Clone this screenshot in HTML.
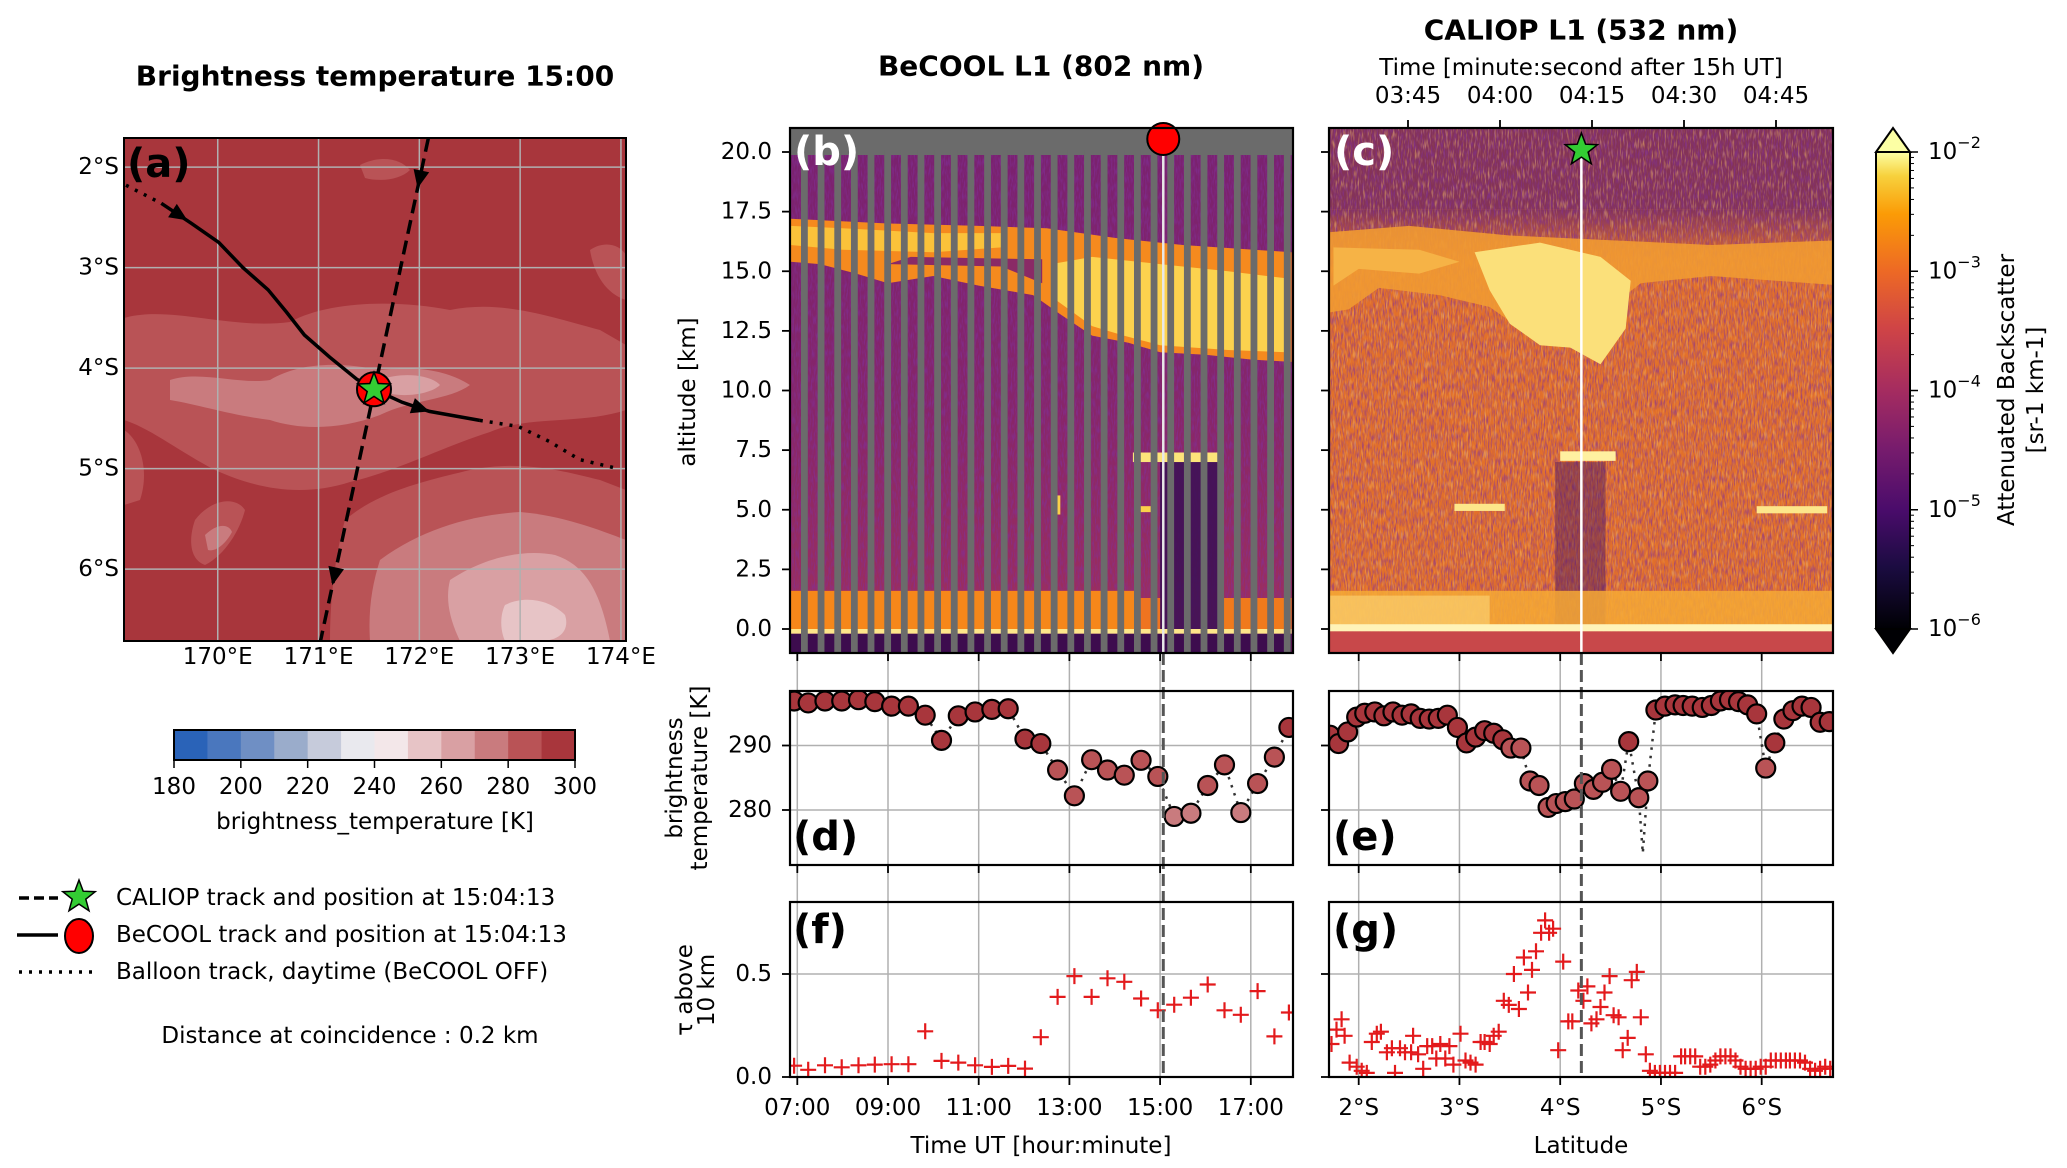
<!DOCTYPE html>
<html><head><meta charset="utf-8">
<style>
html,body{margin:0;padding:0;background:#fff;}
svg{display:block;font-family:"DejaVu Sans","Liberation Sans",sans-serif;}
.t{font-size:23px;fill:#000;}
.b{font-weight:bold;}
</style></head>
<body>
<svg id="fig" width="2067" height="1168" viewBox="0 0 2067 1168" xmlns="http://www.w3.org/2000/svg">
<defs>
<clipPath id="clipA"><rect x="124" y="138" width="502" height="503"/></clipPath>
<clipPath id="clipB"><rect x="790" y="128" width="503" height="525"/></clipPath>
<clipPath id="clipC"><rect x="1329" y="128" width="504" height="525"/></clipPath>
<clipPath id="clipD"><rect x="790" y="691" width="503" height="174"/></clipPath>
<clipPath id="clipE"><rect x="1329" y="691" width="504" height="174"/></clipPath>
<clipPath id="clipF"><rect x="790" y="902" width="503" height="175"/></clipPath>
<clipPath id="clipG"><rect x="1329" y="902" width="504" height="175"/></clipPath>
<linearGradient id="inferno" x1="0" y1="1" x2="0" y2="0">
<stop offset="0" stop-color="#000004"/><stop offset="0.13" stop-color="#1b0c41"/><stop offset="0.25" stop-color="#4a0c6b"/>
<stop offset="0.38" stop-color="#781c6d"/><stop offset="0.5" stop-color="#a52c60"/><stop offset="0.63" stop-color="#cf4446"/>
<stop offset="0.75" stop-color="#ed6925"/><stop offset="0.87" stop-color="#fb9b06"/><stop offset="0.95" stop-color="#f7d13d"/><stop offset="1" stop-color="#fcffa4"/>
</linearGradient>
<linearGradient id="cTopFade" x1="0" y1="0" x2="0" y2="1">
<stop offset="0" stop-color="#6d2461" stop-opacity="0.8"/><stop offset="1" stop-color="#6d2461" stop-opacity="0"/>
</linearGradient>
<linearGradient id="bBg" x1="0" y1="0" x2="0" y2="1">
<stop offset="0" stop-color="#7a226f"/><stop offset="0.5" stop-color="#86266a"/><stop offset="1" stop-color="#a0305c"/>
</linearGradient>
<filter id="noiseP" x="0" y="0" width="1" height="1">
<feTurbulence type="fractalNoise" baseFrequency="0.7 0.12" numOctaves="2" seed="4"/>
<feColorMatrix values="0 0 0 0 0.22  0 0 0 0 0.03  0 0 0 0 0.32  0 0 0 -3 1.75"/>
</filter>
<filter id="noiseO" x="0" y="0" width="1" height="1">
<feTurbulence type="fractalNoise" baseFrequency="0.6 0.1" numOctaves="2" seed="11"/>
<feColorMatrix values="0 0 0 0 0.95  0 0 0 0 0.55  0 0 0 0 0.15  0 0 0 3 -1.5"/>
</filter>
</defs>

<text class="t b" x="375" y="76" text-anchor="middle" dominant-baseline="central" style="font-size:28px">Brightness temperature 15:00</text>
<text class="t b" x="1041" y="66" text-anchor="middle" dominant-baseline="central" style="font-size:28px">BeCOOL L1 (802 nm)</text>
<text class="t b" x="1581" y="30" text-anchor="middle" dominant-baseline="central" style="font-size:28px">CALIOP L1 (532 nm)</text>
<text class="t" x="1581" y="68" text-anchor="middle" dominant-baseline="central">Time [minute:second after 15h UT]</text>

<g id="gA" clip-path="url(#clipA)"></g>
<g id="gB" clip-path="url(#clipB)"></g>
<g id="gC" clip-path="url(#clipC)"></g>
<g id="gGrid"></g>
<g id="gD" clip-path="url(#clipD)"></g>
<g id="gE" clip-path="url(#clipE)"></g>
<g id="gF" clip-path="url(#clipF)"></g>
<g id="gG" clip-path="url(#clipG)"></g>
<g id="gOver"></g>
<g id="gAxes"></g>

<text class="t" transform="translate(688,392) rotate(-90)" text-anchor="middle" dominant-baseline="central">altitude [km]</text>
<text class="t" transform="translate(675,778) rotate(-90)" text-anchor="middle" dominant-baseline="central">brightness</text>
<text class="t" transform="translate(700,778) rotate(-90)" text-anchor="middle" dominant-baseline="central">temperature [K]</text>
<text class="t" transform="translate(685,990) rotate(-90)" text-anchor="middle" dominant-baseline="central">τ above</text>
<text class="t" transform="translate(707,990) rotate(-90)" text-anchor="middle" dominant-baseline="central">10 km</text>
<text class="t" x="1041" y="1146" text-anchor="middle" dominant-baseline="central">Time UT [hour:minute]</text>
<text class="t" x="1581" y="1146" text-anchor="middle" dominant-baseline="central">Latitude</text>
<text class="t" transform="translate(2007,390) rotate(-90)" text-anchor="middle" dominant-baseline="central">Attenuated Backscatter</text>
<text class="t" transform="translate(2036,390) rotate(-90)" text-anchor="middle" dominant-baseline="central">[sr-1 km-1]</text>

<g id="gLegend">
<line x1="19" y1="898" x2="58" y2="898" stroke="#000" stroke-width="3.5" stroke-dasharray="10 5"/>
<line x1="17" y1="935" x2="58" y2="935" stroke="#000" stroke-width="3.5"/>
<line x1="19" y1="972" x2="96" y2="972" stroke="#000" stroke-width="3.5" stroke-dasharray="3 7"/>
<text class="t" x="116" y="898" dominant-baseline="central">CALIOP track and position at 15:04:13</text>
<text class="t" x="116" y="935" dominant-baseline="central">BeCOOL track and position at 15:04:13</text>
<text class="t" x="116" y="972" dominant-baseline="central">Balloon track, daytime (BeCOOL OFF)</text>
<text class="t" x="350" y="1036" text-anchor="middle" dominant-baseline="central">Distance at coincidence : 0.2 km</text>
<text class="t" x="375" y="822" text-anchor="middle" dominant-baseline="central">brightness_temperature [K]</text>
</g>

<g id="gLetters">
<text class="t b" x="127" y="164" dominant-baseline="central" style="font-size:40px">(a)</text>
<text class="t b" x="794" y="152" dominant-baseline="central" style="font-size:40px;fill:#fff">(b)</text>
<text class="t b" x="1334" y="152" dominant-baseline="central" style="font-size:40px;fill:#fff">(c)</text>
<text class="t b" x="793" y="837" dominant-baseline="central" style="font-size:40px">(d)</text>
<text class="t b" x="1333" y="837" dominant-baseline="central" style="font-size:40px">(e)</text>
<text class="t b" x="793" y="930" dominant-baseline="central" style="font-size:40px">(f)</text>
<text class="t b" x="1333" y="930" dominant-baseline="central" style="font-size:40px">(g)</text>
</g>
</svg>

<script>
const becoolHours=[6.93,7.24,7.61,7.98,8.35,8.71,9.08,9.45,9.82,10.18,10.55,10.92,11.29,11.65,12.02,12.37,12.74,13.11,13.49,13.84,14.21,14.58,14.95,15.31,15.68,16.05,16.42,16.78,17.15,17.52,17.84];
const becoolBT=[296.9,296.6,296.9,296.9,297.1,296.8,296.1,296.1,294.7,290.8,294.6,295.2,295.6,295.7,291.0,290.3,286.2,282.2,287.8,286.2,285.4,287.7,285.2,279.0,279.5,283.8,287.0,279.6,284.1,288.2,292.8];
const becoolTau=[0.055,0.035,0.057,0.047,0.057,0.06,0.062,0.062,0.222,0.078,0.07,0.057,0.049,0.054,0.041,0.193,0.389,0.49,0.389,0.479,0.462,0.381,0.324,0.351,0.385,0.449,0.324,0.302,0.417,0.197,0.313];
const caliopLat=[1.715,1.80,1.89,1.98,2.06,2.16,2.25,2.34,2.43,2.52,2.61,2.70,2.79,2.88,2.98,3.07,3.16,3.25,3.34,3.43,3.51,3.61,3.70,3.79,3.88,3.96,4.05,4.14,4.24,4.33,4.42,4.51,4.60,4.68,4.78,4.87,4.95,5.04,5.14,5.22,5.31,5.41,5.50,5.59,5.68,5.77,5.86,5.95,6.04,6.13,6.22,6.31,6.40,6.49,6.58,6.67];
const caliopBT=[291.6,290.3,292.1,294.4,295.0,295.2,294.6,295.2,294.7,294.9,294.2,294.1,294.2,294.7,292.8,290.4,291.3,292.3,291.9,290.9,289.6,289.6,284.5,283.8,280.4,281.0,281.3,281.7,284.1,283.2,284.3,286.3,282.9,290.6,281.9,284.5,295.5,296.1,296.3,296.2,296.1,295.9,296.2,296.9,297.1,296.8,296.3,294.9,286.5,290.4,294.1,295.4,296.1,295.9,293.6,293.7];
const caliopDipLat=[4.82];
const caliopDipBT=[273.3];
const caliopTauLat=[1.73,1.78,1.83,1.86,1.91,1.98,2.03,2.08,2.13,2.18,2.22,2.28,2.33,2.36,2.41,2.46,2.52,2.54,2.59,2.64,2.68,2.73,2.77,2.81,2.86,2.90,2.94,3.01,3.06,3.11,3.16,3.21,3.25,3.30,3.34,3.39,3.44,3.49,3.54,3.59,3.64,3.68,3.72,3.76,3.81,3.85,3.89,3.93,3.98,4.03,4.08,4.12,4.18,4.23,4.27,4.31,4.36,4.40,4.44,4.49,4.53,4.58,4.62,4.67,4.71,4.76,4.80,4.85,4.89,4.94,4.99,5.04,5.09,5.14,5.20,5.24,5.29,5.34,5.39,5.44,5.49,5.54,5.59,5.64,5.69,5.74,5.79,5.84,5.89,5.94,5.99,6.04,6.09,6.14,6.19,6.24,6.28,6.33,6.38,6.43,6.48,6.53,6.58,6.63,6.68];
const caliopTau=[0.16,0.23,0.28,0.20,0.07,0.05,0.03,0.02,0.17,0.21,0.22,0.12,0.14,0.02,0.14,0.12,0.12,0.20,0.11,0.04,0.15,0.15,0.09,0.16,0.09,0.15,0.06,0.21,0.08,0.07,0.06,0.17,0.17,0.16,0.20,0.22,0.37,0.35,0.50,0.33,0.58,0.41,0.52,0.61,0.70,0.76,0.70,0.72,0.13,0.56,0.27,0.27,0.42,0.37,0.44,0.26,0.28,0.34,0.41,0.49,0.30,0.29,0.13,0.19,0.47,0.51,0.29,0.11,0.03,0.02,0.02,0.02,0.02,0.02,0.10,0.10,0.10,0.10,0.05,0.05,0.06,0.08,0.10,0.10,0.10,0.08,0.05,0.04,0.04,0.04,0.05,0.05,0.08,0.08,0.08,0.08,0.08,0.08,0.08,0.07,0.04,0.03,0.04,0.05,0.04];
const timeTicks=[7,9,11,13,15,17];
const timeTickLabels=["07:00","09:00","11:00","13:00","15:00","17:00"];
const latTicks=[2,3,4,5,6];
const latTickLabels=["2°S","3°S","4°S","5°S","6°S"];
const altTicks=[0,2.5,5,7.5,10,12.5,15,17.5,20];
const altTickLabels=["0.0","2.5","5.0","7.5","10.0","12.5","15.0","17.5","20.0"];
const btTicks=[280,290];
const tauTicks=[0,0.5];
const tauTickLabels=["0.0","0.5"];
const caliopTopMinutes=[3.75,4,4.25,4.5,4.75];
const caliopTopLabels=["03:45","04:00","04:15","04:30","04:45"];
const mapLonTicks=[170,171,172,173,174];
const mapLatTicks=[2,3,4,5,6];
const btBounds=[180,190,200,210,220,230,240,250,260,270,280,290,300];
const btColors=["#2a63b8","#4a77be","#6f8fc4","#9aaccb","#c6cbdb","#e9e9ee","#f3e7e9","#e7c4c6","#d9a0a3","#c97b7e","#b95356","#a8363c"];
const becoolTrackLon=[169.09,169.44,169.74,170.01,170.25,170.50,170.68,170.86,171.11,171.38,171.55,171.83,172.10,172.60,172.98,173.29,173.59,173.97];
const becoolTrackLat=[2.18,2.36,2.56,2.75,3.00,3.22,3.44,3.67,3.89,4.11,4.21,4.34,4.43,4.52,4.58,4.73,4.91,5.00];
const caliopTrackLon=[172.09,171.02];
const caliopTrackLat=[1.71,6.71];
const coincidenceLon=[171.55];
const coincidenceLat=[4.21];
const coincidenceHour=[15.07];
const coincidenceLatC=[4.21];

const xb=h=>797.3+(h-7)*45.35;
const yAlt=k=>629-k*23.85;
const xl=l=>1358.7+(l-2)*100.75;
const yT=T=>745.5-(T-290)*6.45;
const yTau=v=>1077-v*206;
const mapX=lon=>124+(lon-169.07)*100.8;
const mapY=lat=>138+(lat-1.71)*100.5;
const xTop=m=>1408+(m-3.75)*368;
const cbY=ex=>629-(ex+6)*119.25;
const btCbX=v=>174+(v-180)*(401/120);
function btColor(T){for(let i=0;i<btColors.length;i++){if(T<btBounds[i+1])return btColors[i];}return btColors[btColors.length-1];}

const NS='http://www.w3.org/2000/svg';
function el(tag,attrs,parent){const n=document.createElementNS(NS,tag);for(const k in attrs)n.setAttribute(k,attrs[k]);parent.appendChild(n);return n;}
const $=id=>document.getElementById(id);
const gA=$('gA'),gB=$('gB'),gC=$('gC'),gD=$('gD'),gE=$('gE'),gF=$('gF'),gG=$('gG'),gGrid=$('gGrid'),gOver=$('gOver'),gAxes=$('gAxes'),svg=$('fig');
function ptsStr(arr,fx,fy){return arr.map(p=>fx(p[0]).toFixed(1)+','+fy(p[1]).toFixed(1)).join(' ');}
function starPts(cx,cy,R){let s=[];for(let i=0;i<10;i++){const r=i%2?R*0.42:R;const a=-Math.PI/2+i*Math.PI/5;s.push((cx+r*Math.cos(a)).toFixed(1)+','+(cy+r*Math.sin(a)).toFixed(1));}return s.join(' ');}

let e;
// ---------- panel A ----------
e=el('rect',{x:124,y:138,width:502,height:503,fill:'#a8363c'},gA);


const patches=[
 ['#b95356','M124,318 C170,305 230,330 290,322 C330,300 400,300 450,310 C500,300 545,315 600,330 L626,345 L626,410 C580,425 530,415 490,432 C440,448 400,470 350,482 C300,498 255,488 215,470 C180,452 150,428 124,420 Z'],
 ['#c97b7e','M170,380 C200,370 240,385 270,380 C300,362 340,362 380,370 C420,365 450,372 470,385 C450,400 410,400 380,415 C340,430 300,430 270,420 C230,415 200,405 170,400 Z'],
 ['#d9a0a3','M380,380 C400,372 430,374 440,385 C430,395 400,398 385,392 Z'],
 ['#b95356','M345,520 C380,490 430,480 470,470 C520,460 560,470 600,480 L626,490 L626,641 L330,641 C330,600 335,555 345,520 Z'],
 ['#c97b7e','M380,560 C420,530 470,515 520,512 C560,515 600,530 626,540 L626,641 L370,641 C368,610 372,585 380,560 Z'],
 ['#d9a0a3','M450,580 C480,560 520,548 555,555 C585,565 600,590 610,641 L460,641 C450,620 445,600 450,580 Z'],
 ['#e7c4c6','M505,605 C525,595 550,600 565,615 C570,630 560,641 540,641 L505,641 C500,630 500,615 505,605 Z'],
 ['#b95356','M195,520 C210,500 235,495 245,510 C240,530 225,555 205,565 C190,560 188,540 195,520 Z'],
 ['#c97b7e','M205,535 C215,525 228,522 232,532 C225,545 215,552 208,550 Z'],
 ['#b95356','M124,430 C140,440 150,470 140,500 L124,505 Z'],
 ['#b95356','M360,165 C380,155 400,158 410,170 C400,180 380,182 365,178 Z'],
 ['#b95356','M590,250 C605,240 620,245 626,255 L626,300 C610,295 595,280 590,250 Z']
];
patches.forEach((p,i)=>{
 e=el('path',{d:p[1],fill:p[0]},gA);
 
 
});
mapLonTicks.forEach(lon=>{
 e=el('line',{x1:mapX(lon),y1:138,x2:mapX(lon),y2:641,stroke:'#b0b0b0','stroke-width':1.5},gA);
 
 
});
mapLatTicks.forEach(lat=>{
 e=el('line',{x1:124,y1:mapY(lat),x2:626,y2:mapY(lat),stroke:'#b0b0b0','stroke-width':1.5},gA);
 
 
});
const trk=becoolTrackLon.map((lon,i)=>[lon,becoolTrackLat[i]]);
e=el('polyline',{points:ptsStr(trk.slice(0,2),mapX,mapY),fill:'none',stroke:'#000','stroke-width':3.5,'stroke-dasharray':'3 7'},gA);


e=el('polyline',{points:ptsStr(trk.slice(1,14),mapX,mapY),fill:'none',stroke:'#000','stroke-width':3.5},gA);


e=el('polyline',{points:ptsStr(trk.slice(13),mapX,mapY),fill:'none',stroke:'#000','stroke-width':3.5,'stroke-dasharray':'3 7'},gA);


const ctrk=caliopTrackLon.map((lon,i)=>[lon,caliopTrackLat[i]]);
e=el('polyline',{points:ptsStr(ctrk,mapX,mapY),fill:'none',stroke:'#000','stroke-width':3.5,'stroke-dasharray':'14 7'},gA);


function arrow(x0,y0,x1,y1,name){
 const a=Math.atan2(y1-y0,x1-x0),L=18,W=8;
 const bx=x1-L*Math.cos(a),by=y1-L*Math.sin(a);
 const p=[[x1,y1],[bx+W*Math.sin(a),by-W*Math.cos(a)],[bx-W*Math.sin(a),by+W*Math.cos(a)]];
 const r=el('polygon',{points:p.map(q=>q[0].toFixed(1)+','+q[1].toFixed(1)).join(' '),fill:'#000'},gA);
 
 
}
arrow(mapX(trk[1][0]),mapY(trk[1][1]),mapX(trk[2][0])-4,mapY(trk[2][1])-3,'becool-direction-arrow-1');
arrow(mapX(trk[11][0]),mapY(trk[11][1]),mapX(trk[12][0]),mapY(trk[12][1]),'becool-direction-arrow-2');
{const f=t=>[mapX(ctrk[0][0]+(ctrk[1][0]-ctrk[0][0])*t),mapY(ctrk[0][1]+(ctrk[1][1]-ctrk[0][1])*t)];
 const a1=f(0.05),a2=f(0.1),b1=f(0.84),b2=f(0.89);
 arrow(a1[0],a1[1],a2[0],a2[1],'caliop-direction-arrow-1');
 arrow(b1[0],b1[1],b2[0],b2[1],'caliop-direction-arrow-2');}
e=el('circle',{cx:mapX(coincidenceLon[0]),cy:mapY(coincidenceLat[0]),r:17,fill:'#ff0000',stroke:'#000','stroke-width':2},gA);


e=el('polygon',{points:starPts(mapX(coincidenceLon[0]),mapY(coincidenceLat[0]),17),fill:'#33cc33',stroke:'#000','stroke-width':1.5},gA);


e=el('rect',{x:124,y:138,width:502,height:503,fill:'none',stroke:'#000','stroke-width':2},gAxes);


mapLonTicks.forEach(lon=>{
 e=el('text',{x:mapX(lon),y:657,'text-anchor':'middle','dominant-baseline':'central',class:'t'},gAxes);
 e.textContent=lon+'°E';
 
 
});
mapLatTicks.forEach(lat=>{
 e=el('text',{x:119,y:mapY(lat),'text-anchor':'end','dominant-baseline':'central',class:'t'},gAxes);
 e.textContent=lat+'°S';
 
 
});
btColors.forEach((c,i)=>{
 e=el('rect',{x:btCbX(btBounds[i]),y:730,width:btCbX(btBounds[i+1])-btCbX(btBounds[i])+0.5,height:30,fill:c},svg);
 
 
});
e=el('rect',{x:174,y:730,width:401,height:30,fill:'none',stroke:'#000','stroke-width':2},svg);


[180,200,220,240,260,280,300].forEach(v=>{
 e=el('line',{x1:btCbX(v),y1:760,x2:btCbX(v),y2:768,stroke:'#000','stroke-width':1.5},svg);
 
 
 e=el('text',{x:btCbX(v),y:787,'text-anchor':'middle','dominant-baseline':'central',class:'t'},svg);
 e.textContent=v;
 
 
});
e=el('polygon',{points:starPts(79,897,17),fill:'#33cc33',stroke:'#000','stroke-width':1.5},$('gLegend'));


e=el('ellipse',{cx:79,cy:936,rx:14,ry:17,fill:'#ff0000',stroke:'#000','stroke-width':2},$('gLegend'));



// ---------- panel B ----------
function polyB(arr,fill,name,op){const r=el('polygon',{points:ptsStr(arr,xb,yAlt),fill:fill,opacity:op||1},gB);return r;}
function rectD(g,fx,fy,x0,x1,y0,y1,fill,name,op){const r=el('rect',{x:fx(x0),y:fy(y1),width:fx(x1)-fx(x0),height:fy(y0)-fy(y1),fill:fill,opacity:op||1},g);return r;}
e=el('rect',{x:790,y:128,width:503,height:525,fill:'#6b6b6b'},gB);


e=el('rect',{x:790,y:155,width:503,height:498,fill:'url(#bBg)'},gB);


e=el('rect',{x:790,y:155,width:503,height:498,filter:'url(#noiseP)',opacity:0.6},gB);


rectD(gB,xb,yAlt,15.0,16.4,0,7.1,'#3a0f55','becool-attenuated-region',0.85);
polyB([[6.85,17.2],[9,17.0],[11,16.9],[12.5,16.8],[14,16.4],[15.5,16.1],[17.9,15.8],[17.9,11.2],[17,11.3],[16,11.5],[15,11.6],[14.3,12.0],[13.5,12.3],[12.8,13.2],[12.2,14.0],[11,14.4],[10,14.8],[9,14.5],[8.3,14.9],[7.5,15.3],[6.85,15.4]],'#f58a1e','becool-cirrus-band');
polyB([[9,15.3],[11.5,15.2],[12.4,14.5],[12.4,15.5],[9.5,15.6]],'#8a2a66','becool-cirrus-gap');
polyB([[6.85,16.9],[8,16.8],[10,16.6],[11.5,16.6],[11.5,16.0],[10,15.8],[8,15.9],[6.85,16.1]],'#fbc23a','becool-cirrus-bright-left');
polyB([[12.6,15.3],[13.5,15.6],[15,15.3],[16.5,15.0],[17.8,14.7],[17.8,11.6],[16.5,11.7],[15,11.9],[14.2,12.3],[13.5,12.7],[12.7,13.8]],'#fcd24e','becool-cirrus-bright-right');
rectD(gB,xb,yAlt,6.85,14.5,0,1.6,'#f6871a','becool-boundary-layer');
rectD(gB,xb,yAlt,14.5,15.0,0,1.3,'#ef7420','becool-boundary-layer-2');
rectD(gB,xb,yAlt,16.4,17.9,0,1.3,'#f07a1c','becool-boundary-layer-3');
rectD(gB,xb,yAlt,6.85,17.9,-0.2,0,'#fde58a','becool-surface-return');
rectD(gB,xb,yAlt,6.85,17.9,-1.1,-0.2,'#3d0c4e','becool-below-surface');
rectD(gB,xb,yAlt,14.4,16.3,7.0,7.4,'#fde47a','becool-midlevel-cloud');
rectD(gB,xb,yAlt,12.65,12.8,4.8,5.6,'#fbd04a','becool-low-cloud-spot');
rectD(gB,xb,yAlt,14.55,14.8,4.9,5.15,'#fbd04a','becool-low-cloud-spot-2');
for(let i=0;i<30;i++){
 e=el('rect',{x:801+i*16.65,y:150,width:6.8,height:503,fill:'#6b6b6b'},gB);
 
 
}
// ---------- panel C ----------
function polyC(arr,fill,name,op){const r=el('polygon',{points:ptsStr(arr,xl,yAlt),fill:fill,opacity:op||1},gC);return r;}
e=el('rect',{x:1329,y:128,width:504,height:525,fill:'#e2702a'},gC);


rectD(gC,xl,yAlt,1.6,6.8,17.6,21.2,'#6d2461','caliop-stratosphere',0.8);
e=el('rect',{x:1329,y:yAlt(17.6),width:504,height:yAlt(15.5)-yAlt(17.6),fill:'url(#cTopFade)'},gC);


e=el('rect',{x:1329,y:128,width:504,height:525,filter:'url(#noiseP)',opacity:0.6},gC);


e=el('rect',{x:1329,y:128,width:504,height:525,filter:'url(#noiseO)',opacity:0.5},gC);


polyC([[1.6,16.6],[2.5,16.9],[3.5,16.5],[4.5,16.3],[5.5,16.1],[6.8,16.3],[6.8,14.4],[5.5,14.8],[4.8,14.5],[4.4,13.2],[4.1,11.8],[3.7,12.3],[3.3,13.5],[2.8,14.0],[2.2,14.3],[1.9,13.4],[1.6,13.2]],'#f19a32','caliop-cirrus-band',0.9);
polyC([[1.75,16.0],[2.6,15.9],[3.0,15.4],[2.6,14.9],[2.0,15.1],[1.75,14.4]],'#f6b346','caliop-cirrus-left');
polyC([[3.15,15.8],[3.8,16.2],[4.4,15.6],[4.7,14.6],[4.65,12.6],[4.4,11.1],[4.1,11.8],[3.8,11.9],[3.5,12.8],[3.3,14.2]],'#fbe07a','caliop-convective-core');
rectD(gC,xl,yAlt,3.95,4.45,0,7.0,'#4a1461','caliop-attenuated-column',0.45);
rectD(gC,xl,yAlt,1.6,6.8,0.15,1.6,'#f6a935','caliop-boundary-layer',0.85);
rectD(gC,xl,yAlt,1.6,3.3,0.15,1.4,'#fcd778','caliop-boundary-layer-bright',0.6);
rectD(gC,xl,yAlt,1.6,6.8,-0.1,0.2,'#fff3b8','caliop-surface-return');
rectD(gC,xl,yAlt,1.6,6.8,-1.1,-0.1,'#c8484a','caliop-below-surface');
rectD(gC,xl,yAlt,4.0,4.55,7.05,7.45,'#fff0a0','caliop-midlevel-cloud');
rectD(gC,xl,yAlt,2.95,3.45,4.95,5.25,'#fde68a','caliop-low-cloud-1');
rectD(gC,xl,yAlt,5.95,6.65,4.85,5.15,'#fde68a','caliop-low-cloud-2');
// ---------- colorbar ----------
e=el('rect',{x:1876,y:152,width:34,height:477,fill:'url(#inferno)'},svg);


e=el('polygon',{points:'1876,152 1893,128 1910,152',fill:'#fcffa4',stroke:'#000','stroke-width':2},svg);


e=el('polygon',{points:'1876,629 1893,653 1910,629',fill:'#000004',stroke:'#000','stroke-width':2},svg);


e=el('path',{d:'M1876,152 L1876,629 M1910,152 L1910,629',stroke:'#000','stroke-width':2,fill:'none'},svg);


[-2,-3,-4,-5,-6].forEach(ex=>{
 e=el('line',{x1:1910,y1:cbY(ex),x2:1918,y2:cbY(ex),stroke:'#000','stroke-width':1.5},svg);
 
 
 e=el('text',{x:1928,y:cbY(ex),'dominant-baseline':'central',class:'t'},svg);
 e.textContent='10';
 
 
 const sup=el('tspan',{dy:'-10','font-size':'16'},e);
 sup.textContent='−'+(-ex);
 for(let m=2;m<10;m++){const yy=cbY(ex+Math.log10(m));if(yy<152)continue;
  e=el('line',{x1:1910,y1:yy,x2:1914,y2:yy,stroke:'#000','stroke-width':1},svg);
  
  }
});

// ---------- grids ----------
timeTicks.forEach(h=>{
 e=el('line',{x1:xb(h),y1:653,x2:xb(h),y2:1077,stroke:'#b0b0b0','stroke-width':1.5},gGrid);
 
 
});
latTicks.forEach(l=>{
 e=el('line',{x1:xl(l),y1:653,x2:xl(l),y2:1077,stroke:'#b0b0b0','stroke-width':1.5},gGrid);
 
 
});
[[790,1293],[1329,1833]].forEach(r=>{
 btTicks.forEach(T=>{e=el('line',{x1:r[0],y1:yT(T),x2:r[1],y2:yT(T),stroke:'#b0b0b0','stroke-width':1.5},gGrid);
  
  });
 tauTicks.forEach(v=>{e=el('line',{x1:r[0],y1:yTau(v),x2:r[1],y2:yTau(v),stroke:'#b0b0b0','stroke-width':1.5},gGrid);
  
  });
});

// ---------- panel D / E ----------
e=el('polyline',{points:becoolHours.map((h,i)=>xb(h).toFixed(1)+','+yT(becoolBT[i]).toFixed(1)).join(' '),fill:'none',stroke:'#333','stroke-width':2.5,'stroke-dasharray':'2.5 6'},gD);


becoolHours.forEach((h,i)=>{
 e=el('circle',{cx:xb(h),cy:yT(becoolBT[i]),r:9.5,fill:btColor(becoolBT[i]),stroke:'#000','stroke-width':2.2},gD);
 
 
});
const eLine=caliopLat.map((l,i)=>[l,caliopBT[i]]).concat(caliopDipLat.map((l,i)=>[l,caliopDipBT[i]])).sort((a,b)=>a[0]-b[0]);
e=el('polyline',{points:ptsStr(eLine,xl,yT),fill:'none',stroke:'#333','stroke-width':2.5,'stroke-dasharray':'2.5 6'},gE);


caliopLat.forEach((l,i)=>{
 e=el('circle',{cx:xl(l),cy:yT(caliopBT[i]),r:9.5,fill:btColor(caliopBT[i]),stroke:'#000','stroke-width':2.2},gE);
 
 
});
// ---------- panel F / G ----------
function cross(g,x,y,name){
 const r=el('path',{d:'M'+(x-8).toFixed(1)+','+y.toFixed(1)+' h16 M'+x.toFixed(1)+','+(y-8).toFixed(1)+' v16',stroke:'#e31a1c','stroke-width':2.2,fill:'none'},g);
 
 
}
becoolHours.forEach((h,i)=>cross(gF,xb(h),yTau(becoolTau[i]),'becool-tau-point'));
caliopTauLat.forEach((l,i)=>cross(gG,xl(l),yTau(caliopTau[i]),'caliop-tau-point'));

// ---------- overlays ----------
e=el('line',{x1:xb(coincidenceHour[0]),y1:150,x2:xb(coincidenceHour[0]),y2:653,stroke:'#e8e8e8','stroke-width':2.5},gOver);


e=el('circle',{cx:xb(coincidenceHour[0]),cy:139,r:16,fill:'#ff0000',stroke:'#000','stroke-width':2},gOver);


e=el('line',{x1:xl(coincidenceLatC[0]),y1:150,x2:xl(coincidenceLatC[0]),y2:653,stroke:'#ffffff','stroke-width':2.5},gOver);


e=el('polygon',{points:starPts(xl(coincidenceLatC[0]),150,17),fill:'#33cc33',stroke:'#000','stroke-width':1.5},gOver);


e=el('line',{x1:xb(coincidenceHour[0]),y1:653,x2:xb(coincidenceHour[0]),y2:1077,stroke:'#555','stroke-width':3,'stroke-dasharray':'12 5'},gOver);


e=el('line',{x1:xl(coincidenceLatC[0]),y1:653,x2:xl(coincidenceLatC[0]),y2:1077,stroke:'#555','stroke-width':3,'stroke-dasharray':'12 5'},gOver);



// ---------- frames & ticks ----------
[[790,128,503,525,'becool-lidar-frame'],[1329,128,504,525,'caliop-lidar-frame'],[790,691,503,174,'becool-bt-frame'],[1329,691,504,174,'caliop-bt-frame'],[790,902,503,175,'becool-tau-frame'],[1329,902,504,175,'caliop-tau-frame']].forEach(f=>{
 e=el('rect',{x:f[0],y:f[1],width:f[2],height:f[3],fill:'none',stroke:'#000','stroke-width':2.2},gAxes);
 
 
});
function tick(x1,y1,x2,y2){const t=el('line',{x1:x1,y1:y1,x2:x2,y2:y2,stroke:'#000','stroke-width':1.8},gAxes);}
function label(x,y,txt,anchor,name){const t=el('text',{x:x,y:y,'text-anchor':anchor,'dominant-baseline':'central',class:'t'},gAxes);t.textContent=txt;}
[653,865,1077].forEach(y=>{timeTicks.forEach(h=>tick(xb(h),y,xb(h),y+8));latTicks.forEach(l=>tick(xl(l),y,xl(l),y+8));});
timeTicks.forEach((h,i)=>label(xb(h),1108,timeTickLabels[i],'middle','time-tick-label'));
latTicks.forEach((l,i)=>label(xl(l),1108,latTickLabels[i],'middle','latitude-tick-label'));
altTicks.forEach((k,i)=>{tick(790,yAlt(k),782,yAlt(k));tick(1329,yAlt(k),1321,yAlt(k));label(772,yAlt(k),altTickLabels[i],'end','altitude-tick-label');});
btTicks.forEach(T=>{tick(790,yT(T),782,yT(T));tick(1329,yT(T),1321,yT(T));label(772,yT(T),String(T),'end','bt-tick-label');});
tauTicks.forEach((v,i)=>{tick(790,yTau(v),782,yTau(v));tick(1329,yTau(v),1321,yTau(v));label(772,yTau(v),tauTickLabels[i],'end','tau-tick-label');});
caliopTopMinutes.forEach((m,i)=>{tick(xTop(m),128,xTop(m),120);label(xTop(m),96,caliopTopLabels[i],'middle','caliop-time-tick-label');});
svg.appendChild($('gLetters'));
</script>
</body></html>
